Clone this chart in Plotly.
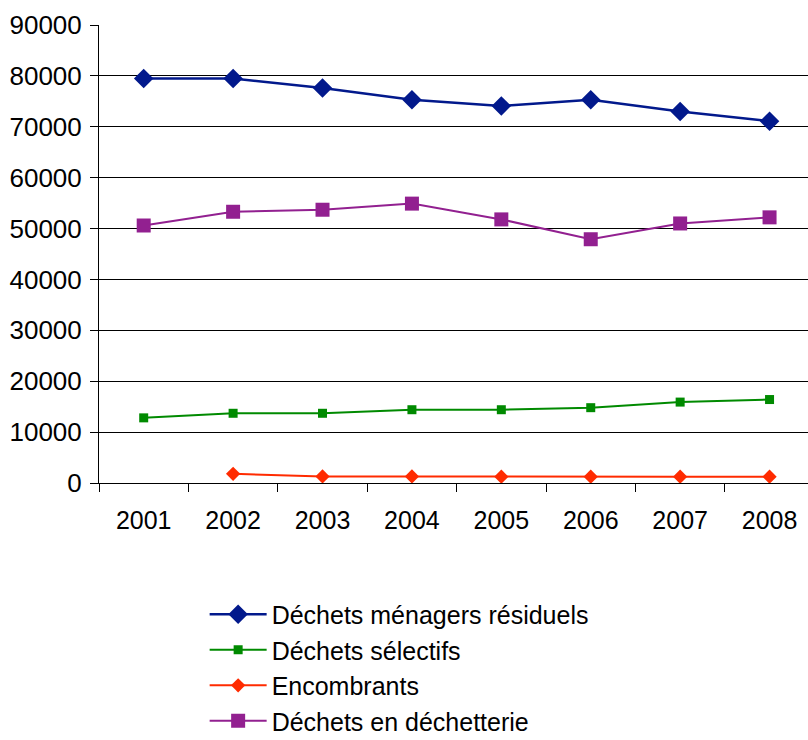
import plotly.graph_objects as go

years = ["2001", "2002", "2003", "2004", "2005", "2006", "2007", "2008"]

menagers_residuels = [79500, 79500, 77600, 75300, 74100, 75300, 73000, 71100]
selectifs = [12800, 13700, 13700, 14400, 14400, 14800, 15900, 16400]
encombrants = [None, 1800, 1300, 1300, 1250, 1250, 1250, 1250]
decheterie = [50600, 53300, 53700, 54900, 51800, 47900, 51000, 52200]

y_ticks = [0, 10000, 20000, 30000, 40000, 50000, 60000, 70000, 80000, 90000]

series = [
    ("Déchets ménagers résiduels", menagers_residuels, "#02198C", "diamond", 15, 2.5),
    ("Déchets sélectifs", selectifs, "#008A00", "square", 9, 2),
    ("Encombrants", encombrants, "#FF2B00", "diamond", 11, 2),
    ("Déchets en déchetterie", decheterie, "#922090", "square", 14, 2),
]

fig = go.Figure()
for i, (name, vals, color, sym, size, width) in enumerate(series):
    fig.add_trace(go.Scatter(
        x=years, y=vals, name=name, mode="lines+markers",
        line=dict(color=color, width=width),
        marker=dict(symbol=sym, size=size, color=color),
        connectgaps=False,
        legendgroup=f"g{i}",
    ))

font_family = "Liberation Sans, Arial, sans-serif"

fig.update_layout(
    width=808, height=740,
    margin=dict(l=99, r=0, t=25, b=257, autoexpand=False),
    paper_bgcolor="white", plot_bgcolor="white",
    font=dict(family=font_family, color="black", size=25),
    showlegend=True,
    legend=dict(
        x=0.149, y=-0.237, xanchor="left", yanchor="top",
        font=dict(size=25, family=font_family, color="black"),
        itemwidth=57, traceorder="grouped", tracegroupgap=0,
        bgcolor="rgba(0,0,0,0)",
    ),
    xaxis=dict(
        type="category", range=[-0.5, 7.43],
        showline=True, linecolor="black", linewidth=1,
        showgrid=False, zeroline=False,
        ticks="outside", ticklen=8, tickcolor="black", tickson="boundaries",
        tickfont=dict(size=25), ticklabelstandoff=15,
    ),
    yaxis=dict(
        range=[0, 90000], tickvals=y_ticks,
        ticktext=[str(v) for v in y_ticks],
        showline=True, linecolor="black", linewidth=1,
        showgrid=True, gridcolor="black", gridwidth=1,
        zeroline=False,
        ticks="outside", ticklen=8, tickcolor="black",
        tickfont=dict(size=26), ticklabelstandoff=3,
    ),
)

fig.write_html("out.html")
